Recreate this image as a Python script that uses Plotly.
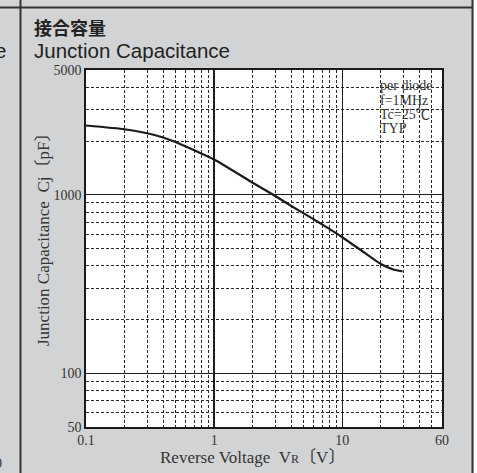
import plotly.graph_objects as go

# ---- data ----
voltage_v = [0.1, 0.2, 0.3, 0.4, 0.5, 0.7, 1, 2, 3, 4, 6, 7, 10, 15, 20, 25, 29.5]
cap_pf = [2444, 2329, 2210, 2094, 1975, 1775, 1576, 1168, 984, 865, 728, 680, 578, 472, 409, 381, 372]

x_major = [0.1, 1, 10, 60]
x_major_text = ["0.1", "1", "10", "60"]
x_minor = [0.2, 0.3, 0.4, 0.5, 0.6, 0.7, 0.8, 0.9, 2, 3, 4, 5, 6, 7, 8, 9, 20, 30, 40, 50]
y_major = [50, 100, 1000, 5000]
y_major_text = ["50", "100", "1000", "5000"]
y_minor = [60, 70, 80, 90, 200, 300, 400, 500, 600, 700, 800, 900, 2000, 3000, 4000]

note_lines = ["per diode", "f=1MHz", "Tc=25℃", "TYP"]

# ---- geometry ----
W, H = 477, 473
ML, MR, MT, MB = 86, 35, 70, 46
PW, PH = W - ML - MR, H - MT - MB

def px(x):
    return (x - ML) / PW

def py(y):
    return (H - MB - y) / PH

SERIF = "Liberation Serif, Noto Sans CJK JP, serif"
SANS = "Liberation Sans, Arial, sans-serif"
CJK = "Noto Sans CJK JP, sans-serif"
INK = "#222222"

fig = go.Figure()
fig.add_trace(go.Scatter(
    x=voltage_v, y=cap_pf, mode="lines",
    line=dict(color="#1a1a1a", width=2.2, shape="spline", smoothing=0.5),
    hoverinfo="skip", showlegend=False,
))

axis_common = dict(
    type="log", showline=True, mirror=True, linecolor="#1a1a1a", linewidth=1.6,
    showgrid=True, gridcolor="#1e1e1e", gridwidth=1.3, ticks="", zeroline=False,
    tickfont=dict(family=SERIF, size=14, color="#333333"),
)

fig.update_xaxes(
    **axis_common,
    range=[-1, 1.77815],
    tickmode="array", tickvals=x_major, ticktext=x_major_text,
    minor=dict(tickmode="array", tickvals=x_minor, showgrid=True,
               gridcolor="#2a2a2a", gridwidth=1, griddash="3px,2px", ticks=""),
)
fig.update_yaxes(
    **axis_common,
    range=[1.69897, 3.69897],
    tickmode="array", tickvals=y_major, ticktext=y_major_text,
    minor=dict(tickmode="array", tickvals=y_minor, showgrid=True,
               gridcolor="#2a2a2a", gridwidth=1, griddash="3px,2px", ticks=""),
)

shapes = [
    dict(type="rect", xref="paper", yref="paper", x0=px(473.5), x1=px(W + 2), y0=py(H + 2), y1=py(-2),
         fillcolor="#ffffff", line=dict(width=0), layer="below"),
    dict(type="line", xref="paper", yref="paper", x0=px(20.5), x1=px(20.5), y0=py(0), y1=py(H),
         line=dict(color="#333333", width=2)),
    dict(type="line", xref="paper", yref="paper", x0=px(0), x1=px(472.5), y0=py(7.5), y1=py(7.5),
         line=dict(color="#333333", width=2)),
    dict(type="line", xref="paper", yref="paper", x0=px(472.5), x1=px(472.5), y0=py(0), y1=py(H),
         line=dict(color="#333333", width=2)),
]

annotations = [
    dict(text="<b>接合容量</b>", xref="paper", yref="paper", x=px(32), y=py(27),
         xanchor="left", yanchor="middle", showarrow=False,
         font=dict(family=CJK, size=18, color=INK)),
    dict(text="Junction Capacitance", xref="paper", yref="paper", x=px(32), y=py(51),
         xanchor="left", yanchor="middle", showarrow=False,
         font=dict(family=SANS, size=20.5, color=INK)),
    dict(text="Junction Capacitance\u2002Cj〔pF〕", xref="paper", yref="paper",
         x=px(43), y=py(236), textangle=-90, xanchor="center", yanchor="middle",
         showarrow=False, font=dict(family=SERIF, size=17, color="#333333")),
    dict(text="Reverse Voltage\u2002V<span style='font-size:12px'>R</span>〔V〕",
         xref="paper", yref="paper", x=px(252), y=py(458), xanchor="center", yanchor="middle",
         showarrow=False, font=dict(family=SERIF, size=17, color="#333333")),
    dict(text="e", xref="paper", yref="paper", x=px(8), y=py(51), xanchor="right",
         yanchor="middle", showarrow=False, font=dict(family=SANS, size=20.5, color=INK)),
    dict(text="0", xref="paper", yref="paper", x=px(4), y=py(463), xanchor="right",
         yanchor="middle", showarrow=False, font=dict(family=SERIF, size=14, color="#333333")),
]
for i, line in enumerate(note_lines):
    annotations.append(dict(
        text=line, xref="paper", yref="paper", x=px(378), y=py(86 + 14 * i),
        xanchor="left", yanchor="middle", showarrow=False,
        font=dict(family=SERIF, size=14, color="#333333"),
    ))

fig.update_layout(
    width=W, height=H, margin=dict(l=ML, r=MR, t=MT, b=MB, pad=0),
    paper_bgcolor="#d2d3d5", plot_bgcolor="#ffffff",
    shapes=shapes, annotations=annotations, showlegend=False,
)

fig.write_html(
    "out.html",
    config={"displayModeBar": False, "staticPlot": True},
    post_script="document.body.style.margin='0';document.body.style.overflow='hidden';",
)
